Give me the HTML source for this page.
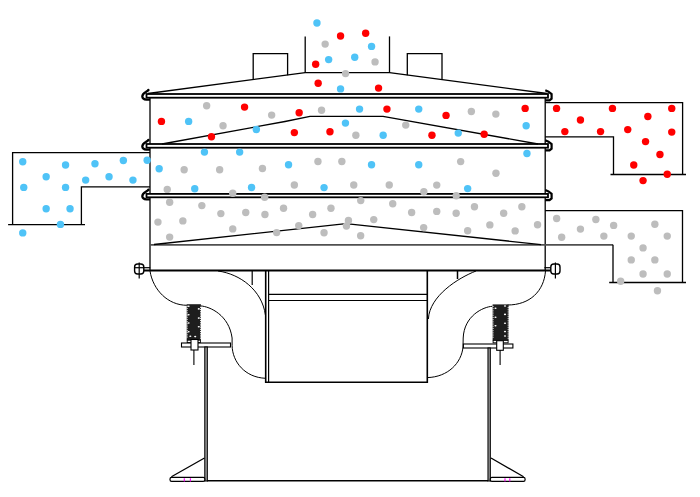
<!DOCTYPE html>
<html><head><meta charset="utf-8"><style>
html,body{margin:0;padding:0;background:#fff;}
body{width:700px;height:497px;overflow:hidden;font-family:"Liberation Sans",sans-serif;}
svg{display:block;}
</style></head><body>
<svg width="700" height="497" viewBox="0 0 700 497">
<g stroke="#000" fill="none" stroke-linecap="butt">
<path d="M148,93.5 L305.2,72.6 L389.5,72.6 L547,93.5" stroke-width="1.3" fill="none"/>
<path d="M253.2,79.6 L253.2,53.6 L287.6,53.6 L287.6,75.3" stroke-width="1.3" fill="none"/>
<path d="M407.3,75.3 L407.3,53.6 L442,53.6 L442,79.6" stroke-width="1.3" fill="none"/>
<line x1="305.2" y1="36.4" x2="305.2" y2="72.8" stroke-width="1.3"/>
<line x1="389.5" y1="36.4" x2="389.5" y2="72.8" stroke-width="1.3"/>
<line x1="150" y1="96" x2="150" y2="270" stroke-width="1.3"/>
<line x1="545.2" y1="96" x2="545.2" y2="270" stroke-width="1.3"/>
<rect x="146.5" y="94.0" width="401.5" height="3.700000000000003" fill="#fff" stroke-width="1.8"/>
<rect x="146.5" y="144.0" width="401.5" height="3.6999999999999886" fill="#fff" stroke-width="1.8"/>
<rect x="146.5" y="193.9" width="401.5" height="3.4000000000000057" fill="#fff" stroke-width="1.8"/>
<line x1="150" y1="244.9" x2="613" y2="244.9" stroke="#505050" stroke-width="1.6"/>
<line x1="139" y1="270.5" x2="556" y2="270.5" stroke-width="2.0"/>
<path d="M162,144 L285,121.5 L310,116.4 L383,116.4 L538,144" stroke-width="1.3" fill="none"/>
<path d="M154,244.5 L346,223.7 L541,244.6" stroke-width="1.3" fill="none"/>
<path d="M150,152.6 L12.6,152.6 L12.6,224.7 M8.1,224.7 L85,224.7 M81.4,224.7 L81.4,186.9 L150,186.9" stroke-width="1.3" fill="none"/>
<path d="M545.2,102.6 L682.6,102.6 L682.6,174.5 M610.5,174.5 L686,174.5 M613.5,174.5 L613.5,136.8 L545.2,136.8" stroke-width="1.3" fill="none"/>
<path d="M545.2,210.6 L682.5,210.6 L682.5,282.5 M609.2,282.5 L686,282.5 M613,282.5 L613,244.8" stroke-width="1.3" fill="none"/>
<path d="M150,271 C153,290 168,305.3 187,305.3" stroke-width="1.0" fill="none"/>
<path d="M200.4,305.9 C210,306.5 229,315 232.1,338 L232.1,345.7 C232.5,362 245,377.5 265.6,378.3" stroke-width="1.0" fill="none"/>
<path d="M218,271 C240,274 262,290 265.4,315" stroke-width="1.0" fill="none"/>
<line x1="252.2" y1="271" x2="252.2" y2="285" stroke-width="1.2"/>
<path d="M545.5,271 C544,291 530,305 507.5,305" stroke-width="1.0" fill="none"/>
<path d="M492.4,306.3 C483,306.8 464,316 463.2,338 L463,347 C461.5,363 448,377 427.3,377.6" stroke-width="1.0" fill="none"/>
<path d="M476,271 C458,278 429.5,296 428.4,319" stroke-width="1.0" fill="none"/>
<line x1="457.5" y1="271" x2="457.5" y2="279" stroke-width="1.5"/>
<path d="M265.7,270 L265.7,382.3 L427.3,382.3 L427.3,270" stroke-width="1.6" fill="none"/>
<line x1="268.6" y1="271" x2="268.6" y2="382" stroke-width="1.2"/>
<line x1="268.6" y1="294.4" x2="427" y2="294.4" stroke-width="1.2"/>
<line x1="268.6" y1="300.5" x2="427" y2="300.5" stroke-width="1.2"/>
<rect x="186.7" y="304.2" width="14.200000000000017" height="36.0" fill="#1e1e1e" stroke="none"/>
<rect x="186.7" y="305.7" width="0.9" height="1.1" fill="#fff" stroke="none"/>
<rect x="200.0" y="306.8" width="0.9" height="1.1" fill="#fff" stroke="none"/>
<rect x="186.7" y="307.9" width="0.9" height="1.1" fill="#fff" stroke="none"/>
<rect x="200.0" y="309.0" width="0.9" height="1.1" fill="#fff" stroke="none"/>
<rect x="186.7" y="310.1" width="0.9" height="1.1" fill="#fff" stroke="none"/>
<rect x="200.0" y="311.2" width="0.9" height="1.1" fill="#fff" stroke="none"/>
<rect x="186.7" y="312.3" width="0.9" height="1.1" fill="#fff" stroke="none"/>
<rect x="200.0" y="313.4" width="0.9" height="1.1" fill="#fff" stroke="none"/>
<rect x="186.7" y="314.5" width="0.9" height="1.1" fill="#fff" stroke="none"/>
<rect x="200.0" y="315.6" width="0.9" height="1.1" fill="#fff" stroke="none"/>
<rect x="186.7" y="316.7" width="0.9" height="1.1" fill="#fff" stroke="none"/>
<rect x="200.0" y="317.8" width="0.9" height="1.1" fill="#fff" stroke="none"/>
<rect x="186.7" y="318.9" width="0.9" height="1.1" fill="#fff" stroke="none"/>
<rect x="200.0" y="320.0" width="0.9" height="1.1" fill="#fff" stroke="none"/>
<rect x="186.7" y="321.1" width="0.9" height="1.1" fill="#fff" stroke="none"/>
<rect x="200.0" y="322.2" width="0.9" height="1.1" fill="#fff" stroke="none"/>
<rect x="186.7" y="323.3" width="0.9" height="1.1" fill="#fff" stroke="none"/>
<rect x="200.0" y="324.4" width="0.9" height="1.1" fill="#fff" stroke="none"/>
<rect x="186.7" y="325.5" width="0.9" height="1.1" fill="#fff" stroke="none"/>
<rect x="200.0" y="326.6" width="0.9" height="1.1" fill="#fff" stroke="none"/>
<rect x="186.7" y="327.7" width="0.9" height="1.1" fill="#fff" stroke="none"/>
<rect x="200.0" y="328.8" width="0.9" height="1.1" fill="#fff" stroke="none"/>
<rect x="186.7" y="329.9" width="0.9" height="1.1" fill="#fff" stroke="none"/>
<rect x="200.0" y="331.0" width="0.9" height="1.1" fill="#fff" stroke="none"/>
<rect x="186.7" y="332.1" width="0.9" height="1.1" fill="#fff" stroke="none"/>
<rect x="200.0" y="333.2" width="0.9" height="1.1" fill="#fff" stroke="none"/>
<rect x="186.7" y="334.3" width="0.9" height="1.1" fill="#fff" stroke="none"/>
<rect x="200.0" y="335.4" width="0.9" height="1.1" fill="#fff" stroke="none"/>
<rect x="186.7" y="336.5" width="0.9" height="1.1" fill="#fff" stroke="none"/>
<rect x="200.0" y="337.6" width="0.9" height="1.1" fill="#fff" stroke="none"/>
<ellipse cx="188.6" cy="306.2" rx="1.1" ry="0.8" fill="#fff" stroke="none"/>
<ellipse cx="188.6" cy="314.8" rx="1.1" ry="0.8" fill="#fff" stroke="none"/>
<ellipse cx="188.6" cy="323" rx="1.1" ry="0.8" fill="#fff" stroke="none"/>
<ellipse cx="188.6" cy="331.7" rx="1.1" ry="0.8" fill="#fff" stroke="none"/>
<ellipse cx="198.8" cy="308.9" rx="1.1" ry="0.8" fill="#fff" stroke="none"/>
<ellipse cx="198.8" cy="318.1" rx="1.1" ry="0.8" fill="#fff" stroke="none"/>
<ellipse cx="198.8" cy="326.8" rx="1.1" ry="0.8" fill="#fff" stroke="none"/>
<ellipse cx="190.3" cy="336.2" rx="1.1" ry="0.8" fill="#fff" stroke="none"/>
<ellipse cx="195.2" cy="336.6" rx="1.1" ry="0.8" fill="#fff" stroke="none"/>
<rect x="187.2" y="340.2" width="13.200000000000017" height="2.4" fill="#fff" stroke-width="0.9"/>
<rect x="492.6" y="304.4" width="16.0" height="36.0" fill="#1e1e1e" stroke="none"/>
<rect x="492.6" y="305.9" width="0.9" height="1.1" fill="#fff" stroke="none"/>
<rect x="507.70000000000005" y="307.0" width="0.9" height="1.1" fill="#fff" stroke="none"/>
<rect x="492.6" y="308.1" width="0.9" height="1.1" fill="#fff" stroke="none"/>
<rect x="507.70000000000005" y="309.2" width="0.9" height="1.1" fill="#fff" stroke="none"/>
<rect x="492.6" y="310.3" width="0.9" height="1.1" fill="#fff" stroke="none"/>
<rect x="507.70000000000005" y="311.4" width="0.9" height="1.1" fill="#fff" stroke="none"/>
<rect x="492.6" y="312.5" width="0.9" height="1.1" fill="#fff" stroke="none"/>
<rect x="507.70000000000005" y="313.6" width="0.9" height="1.1" fill="#fff" stroke="none"/>
<rect x="492.6" y="314.7" width="0.9" height="1.1" fill="#fff" stroke="none"/>
<rect x="507.70000000000005" y="315.8" width="0.9" height="1.1" fill="#fff" stroke="none"/>
<rect x="492.6" y="316.9" width="0.9" height="1.1" fill="#fff" stroke="none"/>
<rect x="507.70000000000005" y="318.0" width="0.9" height="1.1" fill="#fff" stroke="none"/>
<rect x="492.6" y="319.1" width="0.9" height="1.1" fill="#fff" stroke="none"/>
<rect x="507.70000000000005" y="320.2" width="0.9" height="1.1" fill="#fff" stroke="none"/>
<rect x="492.6" y="321.3" width="0.9" height="1.1" fill="#fff" stroke="none"/>
<rect x="507.70000000000005" y="322.4" width="0.9" height="1.1" fill="#fff" stroke="none"/>
<rect x="492.6" y="323.5" width="0.9" height="1.1" fill="#fff" stroke="none"/>
<rect x="507.70000000000005" y="324.6" width="0.9" height="1.1" fill="#fff" stroke="none"/>
<rect x="492.6" y="325.7" width="0.9" height="1.1" fill="#fff" stroke="none"/>
<rect x="507.70000000000005" y="326.8" width="0.9" height="1.1" fill="#fff" stroke="none"/>
<rect x="492.6" y="327.9" width="0.9" height="1.1" fill="#fff" stroke="none"/>
<rect x="507.70000000000005" y="329.0" width="0.9" height="1.1" fill="#fff" stroke="none"/>
<rect x="492.6" y="330.1" width="0.9" height="1.1" fill="#fff" stroke="none"/>
<rect x="507.70000000000005" y="331.2" width="0.9" height="1.1" fill="#fff" stroke="none"/>
<rect x="492.6" y="332.3" width="0.9" height="1.1" fill="#fff" stroke="none"/>
<rect x="507.70000000000005" y="333.4" width="0.9" height="1.1" fill="#fff" stroke="none"/>
<rect x="492.6" y="334.5" width="0.9" height="1.1" fill="#fff" stroke="none"/>
<rect x="507.70000000000005" y="335.6" width="0.9" height="1.1" fill="#fff" stroke="none"/>
<rect x="492.6" y="336.7" width="0.9" height="1.1" fill="#fff" stroke="none"/>
<rect x="507.70000000000005" y="337.8" width="0.9" height="1.1" fill="#fff" stroke="none"/>
<ellipse cx="495.5" cy="308.3" rx="1.1" ry="0.8" fill="#fff" stroke="none"/>
<ellipse cx="495.5" cy="317.2" rx="1.1" ry="0.8" fill="#fff" stroke="none"/>
<ellipse cx="495.5" cy="325.7" rx="1.1" ry="0.8" fill="#fff" stroke="none"/>
<ellipse cx="505" cy="306" rx="1.1" ry="0.8" fill="#fff" stroke="none"/>
<ellipse cx="505" cy="314.4" rx="1.1" ry="0.8" fill="#fff" stroke="none"/>
<ellipse cx="505" cy="323.3" rx="1.1" ry="0.8" fill="#fff" stroke="none"/>
<ellipse cx="505" cy="331.6" rx="1.1" ry="0.8" fill="#fff" stroke="none"/>
<ellipse cx="505" cy="336" rx="1.1" ry="0.8" fill="#fff" stroke="none"/>
<rect x="493.1" y="340.4" width="15.0" height="2.4" fill="#fff" stroke-width="0.9"/>
<rect x="181.5" y="343" width="49" height="4" fill="#fff" stroke-width="1.1"/>
<rect x="463.4" y="344" width="49.5" height="4" fill="#fff" stroke-width="1.1"/>
<rect x="191" y="339.5" width="7" height="10.5" fill="#fff" stroke-width="1.1"/>
<rect x="496.7" y="340.7" width="6.6" height="9.6" fill="#fff" stroke-width="1.1"/>
<line x1="193.9" y1="350" x2="193.9" y2="365" stroke-width="1.1"/>
<line x1="500.1" y1="350" x2="500.1" y2="365" stroke-width="1.1"/>
<rect x="204.8" y="347" width="2.5" height="134" fill="#aaa" stroke-width="1.1"/>
<rect x="488" y="348" width="2.3" height="133" fill="#aaa" stroke-width="1.1"/>
<line x1="207" y1="480.7" x2="488" y2="480.7" stroke-width="1.5"/>
<rect x="170" y="477.4" width="34.8" height="3.9" rx="1.6" fill="#fff" stroke-width="1.2"/>
<rect x="490.3" y="477.4" width="34.8" height="3.9" rx="1.6" fill="#fff" stroke-width="1.2"/>
<path d="M171.4,476.8 L204.5,458 M491,458 L523.6,476.8" stroke-width="1.3" fill="none"/>
<rect x="134.6" y="264" width="9.2" height="10" rx="3" fill="#fff" stroke-width="1.4"/>
<line x1="139.2" y1="262.5" x2="139.2" y2="278.5" stroke-width="1.2"/>
<line x1="134.6" y1="267.7" x2="150.2" y2="267.7" stroke-width="1.2"/>
<rect x="550.8" y="264" width="9.2" height="10" rx="3" fill="#fff" stroke-width="1.4"/>
<line x1="555.4" y1="262.5" x2="555.4" y2="278.5" stroke-width="1.2"/>
<line x1="550.8" y1="267.7" x2="544.4" y2="267.7" stroke-width="1.2"/>
<path d="M149,89.85 L145.8,92.05 Q142.3,94.05 142.3,96.44999999999999 Q142.5,99.44999999999999 146.5,99.64999999999999 L150,99.64999999999999" stroke-width="2.3" fill="none"/>
<circle cx="148.4" cy="89.85" r="1.1" fill="#000" stroke="none"/>
<path d="M545.3,90.35 L548.5,91.64999999999999 L551.6,94.05 L551.6,98.64999999999999 L549.5,100.44999999999999 L545.3,100.44999999999999" stroke-width="2.2" fill="none"/>
<path d="M149,139.85 L145.8,142.04999999999998 Q142.3,144.04999999999998 142.3,146.45 Q142.5,149.45 146.5,149.65 L150,149.65" stroke-width="2.3" fill="none"/>
<circle cx="148.4" cy="139.85" r="1.1" fill="#000" stroke="none"/>
<path d="M545.3,140.35 L548.5,141.65 L551.6,144.04999999999998 L551.6,148.65 L549.5,150.45 L545.3,150.45" stroke-width="2.2" fill="none"/>
<path d="M149,189.60000000000002 L145.8,191.8 Q142.3,193.8 142.3,196.20000000000002 Q142.5,199.20000000000002 146.5,199.40000000000003 L150,199.40000000000003" stroke-width="2.3" fill="none"/>
<circle cx="148.4" cy="189.60000000000002" r="1.1" fill="#000" stroke="none"/>
<path d="M545.3,190.10000000000002 L548.5,191.40000000000003 L551.6,193.8 L551.6,198.40000000000003 L549.5,200.20000000000002 L545.3,200.20000000000002" stroke-width="2.2" fill="none"/>
<line x1="184.3" y1="478.2" x2="184.3" y2="481.4" stroke="#f0f" stroke-width="1.1"/>
<line x1="190.4" y1="478.2" x2="190.4" y2="481.4" stroke="#f0f" stroke-width="1.1"/>
<line x1="505" y1="478.2" x2="505" y2="481.4" stroke="#f0f" stroke-width="1.1"/>
<line x1="509.8" y1="478.2" x2="509.8" y2="481.4" stroke="#f0f" stroke-width="1.1"/>
</g>
<g>
<circle cx="316.95" cy="23.00" r="3.7" fill="#4fc3f7"/>
<circle cx="340.55" cy="36.00" r="3.7" fill="#ff0000"/>
<circle cx="365.65" cy="33.30" r="3.7" fill="#ff0000"/>
<circle cx="325.15" cy="44.10" r="3.7" fill="#bdbdbd"/>
<circle cx="371.55" cy="46.40" r="3.7" fill="#4fc3f7"/>
<circle cx="328.65" cy="59.60" r="3.7" fill="#4fc3f7"/>
<circle cx="354.75" cy="57.30" r="3.7" fill="#4fc3f7"/>
<circle cx="375.05" cy="61.90" r="3.7" fill="#bdbdbd"/>
<circle cx="315.65" cy="64.30" r="3.7" fill="#ff0000"/>
<circle cx="345.55" cy="73.60" r="3.7" fill="#bdbdbd"/>
<circle cx="318.15" cy="83.30" r="3.7" fill="#ff0000"/>
<circle cx="340.55" cy="88.90" r="3.7" fill="#4fc3f7"/>
<circle cx="378.55" cy="88.10" r="3.7" fill="#ff0000"/>
<circle cx="161.45" cy="121.40" r="3.7" fill="#ff0000"/>
<circle cx="188.65" cy="121.40" r="3.7" fill="#4fc3f7"/>
<circle cx="206.65" cy="105.80" r="3.7" fill="#bdbdbd"/>
<circle cx="244.55" cy="107.10" r="3.7" fill="#ff0000"/>
<circle cx="223.05" cy="125.80" r="3.7" fill="#bdbdbd"/>
<circle cx="211.45" cy="136.70" r="3.7" fill="#ff0000"/>
<circle cx="256.35" cy="129.50" r="3.7" fill="#4fc3f7"/>
<circle cx="271.65" cy="115.10" r="3.7" fill="#bdbdbd"/>
<circle cx="299.15" cy="112.80" r="3.7" fill="#ff0000"/>
<circle cx="321.55" cy="110.30" r="3.7" fill="#bdbdbd"/>
<circle cx="294.35" cy="132.60" r="3.7" fill="#ff0000"/>
<circle cx="329.95" cy="131.80" r="3.7" fill="#ff0000"/>
<circle cx="345.45" cy="123.10" r="3.7" fill="#4fc3f7"/>
<circle cx="359.55" cy="109.10" r="3.7" fill="#4fc3f7"/>
<circle cx="386.95" cy="109.10" r="3.7" fill="#ff0000"/>
<circle cx="418.75" cy="109.10" r="3.7" fill="#4fc3f7"/>
<circle cx="355.85" cy="135.30" r="3.7" fill="#bdbdbd"/>
<circle cx="383.15" cy="135.30" r="3.7" fill="#4fc3f7"/>
<circle cx="405.75" cy="125.10" r="3.7" fill="#bdbdbd"/>
<circle cx="431.95" cy="135.30" r="3.7" fill="#ff0000"/>
<circle cx="446.05" cy="115.40" r="3.7" fill="#ff0000"/>
<circle cx="471.35" cy="111.50" r="3.7" fill="#bdbdbd"/>
<circle cx="495.85" cy="114.10" r="3.7" fill="#bdbdbd"/>
<circle cx="525.15" cy="108.40" r="3.7" fill="#ff0000"/>
<circle cx="458.25" cy="133.10" r="3.7" fill="#4fc3f7"/>
<circle cx="484.15" cy="134.20" r="3.7" fill="#ff0000"/>
<circle cx="526.15" cy="125.80" r="3.7" fill="#4fc3f7"/>
<circle cx="556.55" cy="108.40" r="3.7" fill="#ff0000"/>
<circle cx="612.45" cy="108.40" r="3.7" fill="#ff0000"/>
<circle cx="671.75" cy="108.40" r="3.7" fill="#ff0000"/>
<circle cx="580.45" cy="120.00" r="3.7" fill="#ff0000"/>
<circle cx="647.85" cy="116.50" r="3.7" fill="#ff0000"/>
<circle cx="564.85" cy="131.60" r="3.7" fill="#ff0000"/>
<circle cx="600.55" cy="131.60" r="3.7" fill="#ff0000"/>
<circle cx="627.75" cy="129.60" r="3.7" fill="#ff0000"/>
<circle cx="671.75" cy="132.10" r="3.7" fill="#ff0000"/>
<circle cx="645.55" cy="141.60" r="3.7" fill="#ff0000"/>
<circle cx="659.95" cy="154.50" r="3.7" fill="#ff0000"/>
<circle cx="633.75" cy="165.00" r="3.7" fill="#ff0000"/>
<circle cx="667.25" cy="174.30" r="3.7" fill="#ff0000"/>
<circle cx="643.05" cy="180.60" r="3.7" fill="#ff0000"/>
<circle cx="204.45" cy="152.10" r="3.7" fill="#4fc3f7"/>
<circle cx="239.65" cy="152.10" r="3.7" fill="#4fc3f7"/>
<circle cx="184.15" cy="169.80" r="3.7" fill="#bdbdbd"/>
<circle cx="219.65" cy="169.80" r="3.7" fill="#bdbdbd"/>
<circle cx="262.45" cy="168.50" r="3.7" fill="#bdbdbd"/>
<circle cx="288.55" cy="164.80" r="3.7" fill="#4fc3f7"/>
<circle cx="317.95" cy="161.50" r="3.7" fill="#bdbdbd"/>
<circle cx="341.85" cy="161.50" r="3.7" fill="#bdbdbd"/>
<circle cx="194.75" cy="188.70" r="3.7" fill="#4fc3f7"/>
<circle cx="251.55" cy="187.50" r="3.7" fill="#4fc3f7"/>
<circle cx="294.35" cy="185.00" r="3.7" fill="#bdbdbd"/>
<circle cx="324.05" cy="187.60" r="3.7" fill="#4fc3f7"/>
<circle cx="232.75" cy="193.30" r="3.7" fill="#bdbdbd"/>
<circle cx="264.65" cy="197.30" r="3.7" fill="#bdbdbd"/>
<circle cx="371.55" cy="164.80" r="3.7" fill="#4fc3f7"/>
<circle cx="418.75" cy="164.80" r="3.7" fill="#4fc3f7"/>
<circle cx="460.65" cy="161.60" r="3.7" fill="#bdbdbd"/>
<circle cx="495.95" cy="173.30" r="3.7" fill="#bdbdbd"/>
<circle cx="353.75" cy="185.00" r="3.7" fill="#bdbdbd"/>
<circle cx="389.25" cy="185.00" r="3.7" fill="#bdbdbd"/>
<circle cx="436.75" cy="185.10" r="3.7" fill="#bdbdbd"/>
<circle cx="467.65" cy="188.60" r="3.7" fill="#4fc3f7"/>
<circle cx="423.85" cy="191.80" r="3.7" fill="#bdbdbd"/>
<circle cx="456.25" cy="195.80" r="3.7" fill="#bdbdbd"/>
<circle cx="526.95" cy="153.50" r="3.7" fill="#4fc3f7"/>
<circle cx="147.15" cy="160.30" r="3.7" fill="#4fc3f7"/>
<circle cx="159.15" cy="168.70" r="3.7" fill="#4fc3f7"/>
<circle cx="167.25" cy="189.40" r="3.7" fill="#bdbdbd"/>
<circle cx="22.75" cy="161.80" r="3.7" fill="#4fc3f7"/>
<circle cx="65.55" cy="165.00" r="3.7" fill="#4fc3f7"/>
<circle cx="94.95" cy="163.80" r="3.7" fill="#4fc3f7"/>
<circle cx="123.35" cy="160.50" r="3.7" fill="#4fc3f7"/>
<circle cx="46.15" cy="176.80" r="3.7" fill="#4fc3f7"/>
<circle cx="85.65" cy="180.10" r="3.7" fill="#4fc3f7"/>
<circle cx="109.05" cy="176.80" r="3.7" fill="#4fc3f7"/>
<circle cx="132.95" cy="180.10" r="3.7" fill="#4fc3f7"/>
<circle cx="23.75" cy="187.40" r="3.7" fill="#4fc3f7"/>
<circle cx="65.55" cy="187.40" r="3.7" fill="#4fc3f7"/>
<circle cx="46.15" cy="208.80" r="3.7" fill="#4fc3f7"/>
<circle cx="70.05" cy="208.80" r="3.7" fill="#4fc3f7"/>
<circle cx="60.45" cy="224.40" r="3.7" fill="#4fc3f7"/>
<circle cx="22.75" cy="232.90" r="3.7" fill="#4fc3f7"/>
<circle cx="169.65" cy="202.20" r="3.7" fill="#bdbdbd"/>
<circle cx="201.85" cy="205.60" r="3.7" fill="#bdbdbd"/>
<circle cx="157.95" cy="222.10" r="3.7" fill="#bdbdbd"/>
<circle cx="182.85" cy="220.90" r="3.7" fill="#bdbdbd"/>
<circle cx="220.85" cy="213.60" r="3.7" fill="#bdbdbd"/>
<circle cx="245.75" cy="212.50" r="3.7" fill="#bdbdbd"/>
<circle cx="264.95" cy="214.50" r="3.7" fill="#bdbdbd"/>
<circle cx="283.55" cy="208.30" r="3.7" fill="#bdbdbd"/>
<circle cx="232.75" cy="228.90" r="3.7" fill="#bdbdbd"/>
<circle cx="276.65" cy="232.60" r="3.7" fill="#bdbdbd"/>
<circle cx="169.65" cy="237.10" r="3.7" fill="#bdbdbd"/>
<circle cx="298.75" cy="225.60" r="3.7" fill="#bdbdbd"/>
<circle cx="312.65" cy="214.50" r="3.7" fill="#bdbdbd"/>
<circle cx="330.95" cy="208.30" r="3.7" fill="#bdbdbd"/>
<circle cx="324.05" cy="232.70" r="3.7" fill="#bdbdbd"/>
<circle cx="348.45" cy="220.50" r="3.7" fill="#bdbdbd"/>
<circle cx="346.45" cy="226.00" r="3.7" fill="#bdbdbd"/>
<circle cx="360.75" cy="200.60" r="3.7" fill="#bdbdbd"/>
<circle cx="373.75" cy="219.60" r="3.7" fill="#bdbdbd"/>
<circle cx="360.65" cy="235.80" r="3.7" fill="#bdbdbd"/>
<circle cx="392.75" cy="203.80" r="3.7" fill="#bdbdbd"/>
<circle cx="411.65" cy="212.50" r="3.7" fill="#bdbdbd"/>
<circle cx="436.75" cy="211.40" r="3.7" fill="#bdbdbd"/>
<circle cx="423.65" cy="227.60" r="3.7" fill="#bdbdbd"/>
<circle cx="456.15" cy="213.30" r="3.7" fill="#bdbdbd"/>
<circle cx="474.45" cy="206.80" r="3.7" fill="#bdbdbd"/>
<circle cx="467.65" cy="230.70" r="3.7" fill="#bdbdbd"/>
<circle cx="489.85" cy="224.90" r="3.7" fill="#bdbdbd"/>
<circle cx="503.65" cy="213.30" r="3.7" fill="#bdbdbd"/>
<circle cx="515.15" cy="230.90" r="3.7" fill="#bdbdbd"/>
<circle cx="521.85" cy="206.80" r="3.7" fill="#bdbdbd"/>
<circle cx="537.55" cy="224.80" r="3.7" fill="#bdbdbd"/>
<circle cx="556.65" cy="218.50" r="3.7" fill="#bdbdbd"/>
<circle cx="595.85" cy="219.50" r="3.7" fill="#bdbdbd"/>
<circle cx="613.65" cy="225.40" r="3.7" fill="#bdbdbd"/>
<circle cx="654.85" cy="224.30" r="3.7" fill="#bdbdbd"/>
<circle cx="580.45" cy="229.10" r="3.7" fill="#bdbdbd"/>
<circle cx="561.65" cy="237.30" r="3.7" fill="#bdbdbd"/>
<circle cx="603.85" cy="236.10" r="3.7" fill="#bdbdbd"/>
<circle cx="631.25" cy="236.10" r="3.7" fill="#bdbdbd"/>
<circle cx="667.25" cy="236.10" r="3.7" fill="#bdbdbd"/>
<circle cx="643.05" cy="247.90" r="3.7" fill="#bdbdbd"/>
<circle cx="631.25" cy="259.90" r="3.7" fill="#bdbdbd"/>
<circle cx="654.85" cy="259.90" r="3.7" fill="#bdbdbd"/>
<circle cx="643.05" cy="274.00" r="3.7" fill="#bdbdbd"/>
<circle cx="667.25" cy="274.00" r="3.7" fill="#bdbdbd"/>
<circle cx="620.65" cy="281.30" r="3.7" fill="#bdbdbd"/>
<circle cx="657.45" cy="290.80" r="3.7" fill="#bdbdbd"/>
</g>
</svg>
</body></html>
